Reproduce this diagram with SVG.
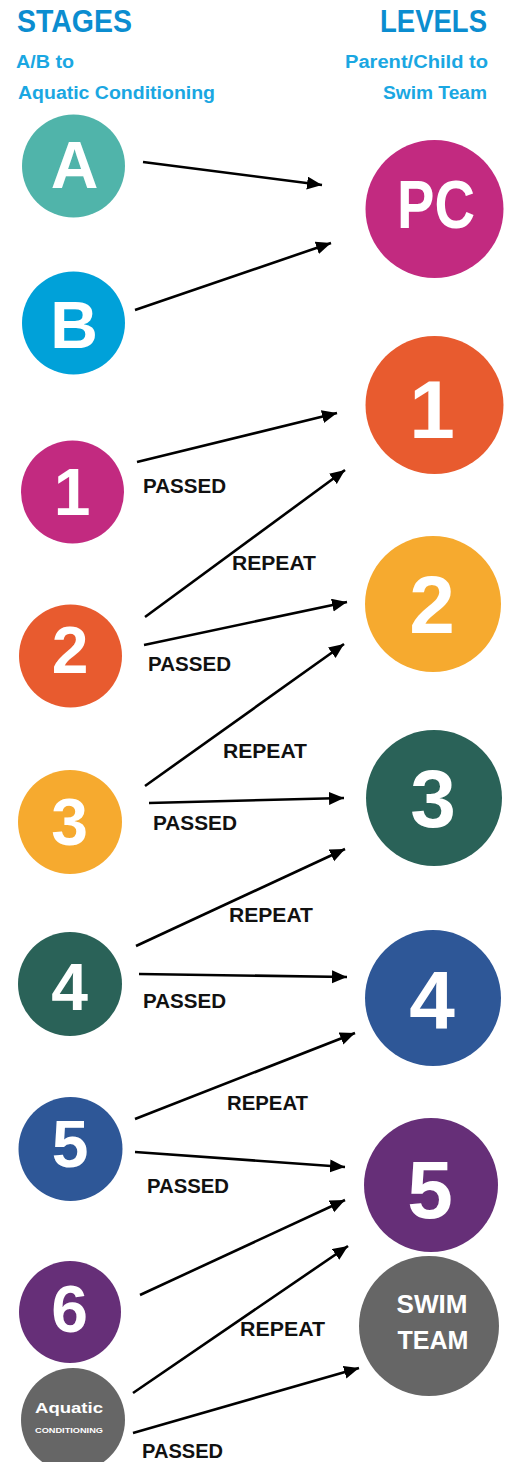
<svg xmlns="http://www.w3.org/2000/svg" width="513" height="1462" viewBox="0 0 513 1462">
  <style>
    .head { font-family: "Liberation Sans", Arial, sans-serif; font-weight: bold; font-size: 32px; fill: #0b8dd0; }
    .sub { font-family: "Liberation Sans", Arial, sans-serif; font-weight: bold; font-size: 18px; fill: #1aa7e2; }
    .glyph { font-family: "Liberation Sans", Arial, sans-serif; font-weight: bold; fill: #ffffff; text-anchor: middle; }
    .stage { font-size: 66px; }
    .level { font-size: 82px; }
    .lbl { font-family: "Liberation Sans", Arial, sans-serif; font-weight: bold; font-size: 20px; fill: #111111; }
    .conn line { stroke: #000000; stroke-width: 2.6; fill: none; marker-end: url(#head); }
  </style>
  <defs>
    <marker id="head" markerUnits="userSpaceOnUse" markerWidth="16" markerHeight="14" refX="15" refY="6.5" orient="auto">
      <path d="M0,0 L15,6.5 L0,13 Z" fill="#000000"/>
    </marker>
  </defs>
  <rect width="513" height="1462" fill="#ffffff"/>

  <!-- column headings -->
  <g id="headings">
    <text class="head" x="17" y="32" textLength="115" lengthAdjust="spacingAndGlyphs">STAGES</text>
    <text class="sub" x="16" y="68" textLength="58" lengthAdjust="spacingAndGlyphs">A/B to</text>
    <text class="sub" x="18" y="99" textLength="197" lengthAdjust="spacingAndGlyphs">Aquatic Conditioning</text>
    <text class="head" x="380" y="32" textLength="107" lengthAdjust="spacingAndGlyphs">LEVELS</text>
    <text class="sub" x="345" y="68" textLength="143" lengthAdjust="spacingAndGlyphs">Parent/Child to</text>
    <text class="sub" x="383" y="99" textLength="104" lengthAdjust="spacingAndGlyphs">Swim Team</text>
  </g>

  <!-- stage nodes (left column) -->
  <g id="stage-a"><circle cx="73.5" cy="166" r="51.5" fill="#50b4aa"/><text class="glyph stage" x="74.5" y="188" font-size="69">A</text></g>
  <g id="stage-b"><circle cx="73.5" cy="323" r="51.5" fill="#00a1d9"/><text class="glyph stage" x="74" y="348">B</text></g>
  <g id="stage-1"><circle cx="72.5" cy="492" r="51.5" fill="#c22a80"/><text class="glyph stage" x="72" y="515">1</text></g>
  <g id="stage-2"><circle cx="70.5" cy="656" r="51.5" fill="#e85b2f"/><text class="glyph stage" x="70" y="673">2</text></g>
  <g id="stage-3"><circle cx="70" cy="822" r="52" fill="#f6aa2f"/><text class="glyph stage" x="69.5" y="845">3</text></g>
  <g id="stage-4"><circle cx="70" cy="984" r="52" fill="#2a6258"/><text class="glyph stage" x="69.5" y="1010">4</text></g>
  <g id="stage-5"><circle cx="70.5" cy="1149" r="52" fill="#2e5797"/><text class="glyph stage" x="70" y="1167">5</text></g>
  <g id="stage-6"><circle cx="70" cy="1312" r="51" fill="#662f78"/><text class="glyph stage" x="69.5" y="1332">6</text></g>
  <g id="stage-aquatic">
    <circle cx="73" cy="1420" r="52" fill="#666666"/>
    <text class="glyph" x="69" y="1413" font-size="15" textLength="68" lengthAdjust="spacingAndGlyphs">Aquatic</text>
    <text class="glyph" x="69" y="1433" font-size="7" textLength="68" lengthAdjust="spacingAndGlyphs">CONDITIONING</text>
  </g>

  <!-- level nodes (right column) -->
  <g id="level-pc"><circle cx="434.5" cy="209" r="69" fill="#c22a80"/><text class="glyph" x="436" y="228" font-size="69" textLength="78" lengthAdjust="spacingAndGlyphs">PC</text></g>
  <g id="level-1"><circle cx="434.5" cy="405" r="69" fill="#e85b2f"/><text class="glyph level" x="432" y="438">1</text></g>
  <g id="level-2"><circle cx="433" cy="604" r="68" fill="#f6aa2f"/><text class="glyph level" x="432" y="633">2</text></g>
  <g id="level-3"><circle cx="434" cy="798" r="68" fill="#2a6258"/><text class="glyph level" x="433" y="827">3</text></g>
  <g id="level-4"><circle cx="433" cy="998" r="68" fill="#2e5797"/><text class="glyph level" x="432" y="1028">4</text></g>
  <g id="level-5"><circle cx="431" cy="1185" r="67" fill="#662f78"/><text class="glyph level" x="430" y="1218">5</text></g>
  <g id="level-swim-team">
    <circle cx="429" cy="1326" r="70" fill="#666666"/>
    <text class="glyph" x="432" y="1313" font-size="25" textLength="71" lengthAdjust="spacingAndGlyphs">SWIM</text>
    <text class="glyph" x="433" y="1349" font-size="25" textLength="71" lengthAdjust="spacingAndGlyphs">TEAM</text>
  </g>

  <!-- progression arrows -->
  <g id="connectors" class="conn">
    <line x1="143" y1="162" x2="322" y2="185"/>
    <line x1="135" y1="310" x2="331" y2="243"/>
    <line x1="137" y1="462" x2="337" y2="413"/>
    <line x1="145" y1="617" x2="345" y2="470"/>
    <line x1="144" y1="645" x2="347" y2="602"/>
    <line x1="145" y1="786" x2="344" y2="644"/>
    <line x1="149" y1="803" x2="344" y2="798"/>
    <line x1="136" y1="946" x2="345" y2="849"/>
    <line x1="139" y1="974" x2="347" y2="977"/>
    <line x1="135" y1="1119" x2="355" y2="1033"/>
    <line x1="135" y1="1152" x2="345" y2="1167"/>
    <line x1="140" y1="1295" x2="345" y2="1200"/>
    <line x1="133" y1="1393" x2="348" y2="1246"/>
    <line x1="133" y1="1433" x2="359" y2="1368"/>
  </g>

  <!-- arrow labels -->
  <g id="labels">
    <text class="lbl" x="143" y="493" textLength="83" lengthAdjust="spacingAndGlyphs">PASSED</text>
    <text class="lbl" x="232" y="570" textLength="84" lengthAdjust="spacingAndGlyphs">REPEAT</text>
    <text class="lbl" x="148" y="671" textLength="83" lengthAdjust="spacingAndGlyphs">PASSED</text>
    <text class="lbl" x="223" y="758" textLength="84" lengthAdjust="spacingAndGlyphs">REPEAT</text>
    <text class="lbl" x="153" y="830" textLength="84" lengthAdjust="spacingAndGlyphs">PASSED</text>
    <text class="lbl" x="229" y="922" textLength="84" lengthAdjust="spacingAndGlyphs">REPEAT</text>
    <text class="lbl" x="143" y="1008" textLength="83" lengthAdjust="spacingAndGlyphs">PASSED</text>
    <text class="lbl" x="227" y="1110" textLength="81" lengthAdjust="spacingAndGlyphs">REPEAT</text>
    <text class="lbl" x="147" y="1193" textLength="82" lengthAdjust="spacingAndGlyphs">PASSED</text>
    <text class="lbl" x="240" y="1336" textLength="85" lengthAdjust="spacingAndGlyphs">REPEAT</text>
    <text class="lbl" x="142" y="1458" textLength="81" lengthAdjust="spacingAndGlyphs">PASSED</text>
  </g>
</svg>
